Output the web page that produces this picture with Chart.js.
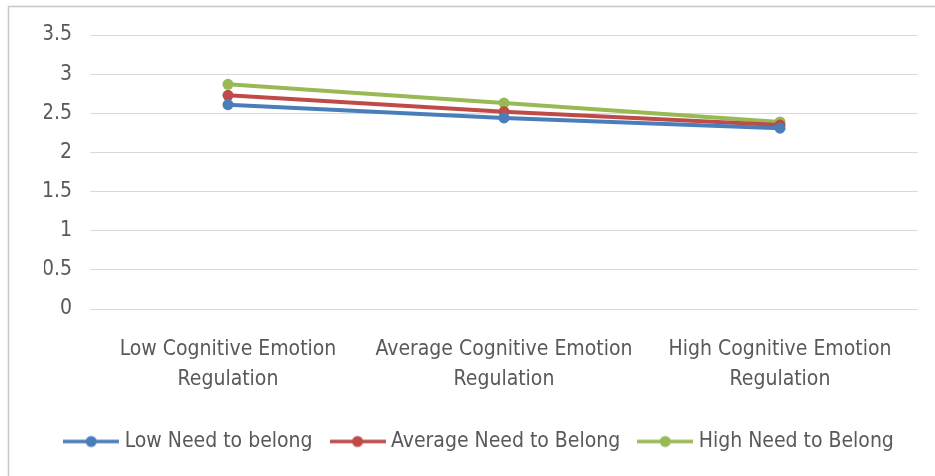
<!DOCTYPE html>
<html>
<head>
<meta charset="utf-8">
<script src="https://cdn.jsdelivr.net/npm/chart.js@4/dist/chart.umd.min.js"></script>
<style>
  html, body { margin: 0; padding: 0; background: #fff; }
</style>
</head>
<body>
<canvas id="lineChart" width="935" height="476"></canvas>
<script>
// categories (x axis)
const categories = [
    ['Low Cognitive Emotion', 'Regulation'],
    ['Average Cognitive Emotion', 'Regulation'],
    ['High Cognitive Emotion', 'Regulation']
];
// series values
const lowNeed = [2.61, 2.44, 2.31];
const averageNeed = [2.73, 2.52, 2.35];
const highNeed = [2.87, 2.63, 2.39];
const seriesNames = ['Low Need to belong', 'Average Need to Belong', 'High Need to Belong'];
const seriesColors = ['#4a7ebb', '#be4b48', '#98b954'];

const FONT = "'Liberation Sans Narrow', 'DejaVu Sans Condensed', sans-serif";

// little line + dot sample for the legend
function legendMark(color) {
    const c = document.createElement('canvas');
    c.width = 56; c.height = 14;
    const g = c.getContext('2d');
    g.strokeStyle = color;
    g.lineWidth = 3.5;
    g.beginPath(); g.moveTo(0, 7); g.lineTo(56, 7); g.stroke();
    g.fillStyle = color;
    g.beginPath(); g.arc(28, 7, 5.5, 0, Math.PI * 2); g.fill();
    return c;
}

// thin grey frame on top and left like the original
const framePlugin = {
    id: 'frame',
    beforeDraw(chart) {
        const g = chart.ctx;
        g.save();
        g.strokeStyle = '#c8c8c8';
        g.lineWidth = 1.5;
        g.beginPath();
        g.moveTo(8.5, 476); g.lineTo(8.5, 6.5); g.lineTo(935, 6.5);
        g.stroke();
        g.restore();
    }
};

const ctx = document.getElementById('lineChart').getContext('2d');
const chart = new Chart(ctx, {
    type: 'line',
    data: {
        labels: categories,
        datasets: [lowNeed, averageNeed, highNeed].map((vals, i) => ({
            label: seriesNames[i],
            data: vals,
            borderColor: seriesColors[i],
            backgroundColor: seriesColors[i],
            pointBackgroundColor: seriesColors[i],
            borderWidth: 4,
            pointRadius: 5.5,
            pointBorderWidth: 0,
            tension: 0
        }))
    },
    options: {
        responsive: false,
        animation: false,
        devicePixelRatio: 1,
        layout: { padding: { left: 44, right: 17, top: 35, bottom: 14 } },
        scales: {
            x: {
                offset: true,
                grid: { display: false },
                border: { display: false },
                ticks: {
                    color: '#595959',
                    font: { family: FONT, size: 21, lineHeight: 1.45 },
                    padding: 17,
                    maxRotation: 0,
                    autoSkip: false
                },
                afterFit(scale) { scale.height = 100; }
            },
            y: {
                min: 0,
                max: 3.5,
                clip: false,
                ticks: {
                    stepSize: 0.5,
                    color: '#595959',
                    font: { family: FONT, size: 21 },
                    padding: 18,
                    callback: v => String(v)
                },
                grid: { color: '#d9d9d9', drawTicks: false, lineWidth: 1 },
                border: { display: false },
                afterFit(scale) { scale.width = 46; }
            }
        },
        plugins: {
            legend: {
                position: 'bottom',
                labels: {
                    usePointStyle: true,
                    pointStyleWidth: 46,
                    color: '#595959',
                    font: { family: FONT, size: 21 },
                    padding: 22,
                    generateLabels(chart) {
                        return chart.data.datasets.map((ds, i) => ({
                            text: ds.label,
                            pointStyle: legendMark(seriesColors[i]),
                            fillStyle: seriesColors[i],
                            strokeStyle: seriesColors[i],
                            lineWidth: 0,
                            hidden: false,
                            datasetIndex: i,
                            fontColor: '#595959'
                        }));
                    }
                }
            },
            tooltip: { enabled: false }
        }
    },
    plugins: [framePlugin]
});
</script>
</body>
</html>
